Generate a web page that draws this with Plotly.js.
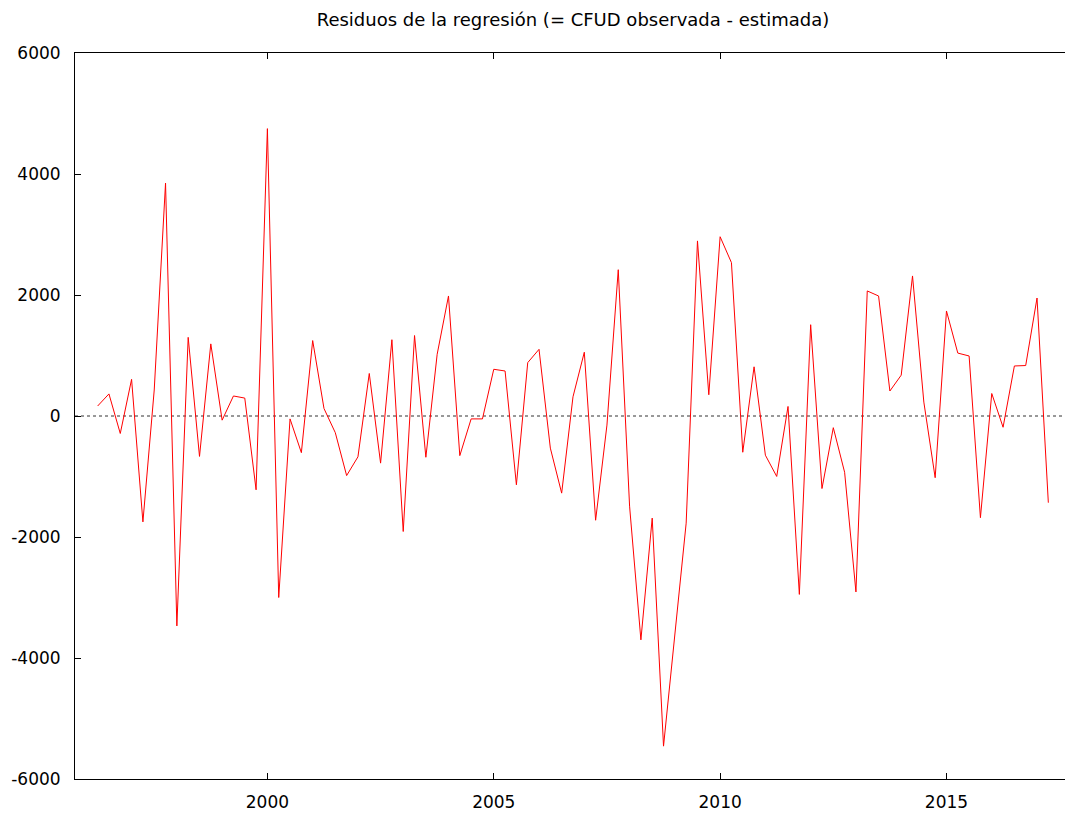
<!DOCTYPE html>
<html>
<head>
<meta charset="utf-8">
<script src="https://cdn.plot.ly/plotly-3.0.1.min.js"></script>
<style>
html, body { margin: 0; padding: 0; overflow: hidden; background: #fff; }
#chart { width: 1065px; height: 816px; }
</style>
</head>
<body>
<div id="chart"></div>
<script>
// Quarterly residuals, 1996Q2 .. 2017Q2
const startYear = 1996;
const startQuarter = 2;
const residuals = [
  165, 365, -289, 606, -1750, 430, 3850, -3470, 1300, -668,
  1192, -69, 331, 296, -1220, 4750, -3000, -48, -606, 1247,
  124, -276, -985, -675, 703, -779, 1261, -1909, 1330, -682,
  1020, 1984, -655, -48, -48, 772, 744, -1137, 882, 1102,
  -531, -1275, 317, 1054, -1723, -150, 2418, -1490, -3700, -1688,
  -5457, -3600, -1771, 2894, 351, 2963, 2535, -599, 813, -648,
  -999, 158, -2949, 1509, -1199, -193, -930, -2908, 2067, 1984,
  413, 675, 2315, 230, -1020, 1736, 1040, 992, -1681, 372,
  -186, 827, 834, 1950, -1433
];
const titleText = 'Residuos de la regresión (= CFUD observada - estimada)';
const xTickVals = [2000, 2005, 2010, 2015];
const yTickVals = [-6000, -4000, -2000, 0, 2000, 4000, 6000];

// time axis (year + fraction of quarter)
const periods = residuals.map((_, i) => {
  const q = startQuarter - 1 + i;
  return startYear + Math.floor(q / 4) + (q % 4) / 4;
});

const trace = {
  x: periods,
  y: residuals,
  type: 'scatter',
  mode: 'lines',
  line: { color: '#ff0000', width: 1 },
  hoverinfo: 'x+y',
  showlegend: false
};

const fontFam = 'DejaVu Sans, Verdana, sans-serif';

const layout = {
  width: 1065,
  height: 816,
  margin: { l: 75, r: 0, t: 53, b: 37, pad: 0 },
  paper_bgcolor: '#ffffff',
  plot_bgcolor: '#ffffff',
  font: { family: fontFam, color: '#000', size: 17 },
  title: {
    text: titleText,
    font: { family: fontFam, size: 18, color: '#000' },
    xref: 'container', x: 573 / 1065, xanchor: 'center',
    yref: 'container', y: 1 - 20 / 816, yanchor: 'middle'
  },
  xaxis: {
    range: [1995.75, 2017.618],
    tickmode: 'array',
    tickvals: xTickVals,
    ticktext: xTickVals.map(String),
    ticks: 'inside', ticklen: 6, tickwidth: 1, tickcolor: '#000',
    showline: true, linecolor: '#000', linewidth: 1, mirror: 'ticks',
    showgrid: false, zeroline: false,
    tickfont: { family: fontFam, size: 17, color: '#000' },
    ticklabelstandoff: 8
  },
  yaxis: {
    range: [-6000, 6000],
    tickmode: 'array',
    tickvals: yTickVals,
    ticktext: yTickVals.map(String),
    ticks: 'inside', ticklen: 6, tickwidth: 1, tickcolor: '#000',
    showline: true, linecolor: '#000', linewidth: 1, mirror: false,
    showgrid: false, zeroline: false,
    tickfont: { family: fontFam, size: 17, color: '#000' },
    ticklabelstandoff: 10
  },
  shapes: [{
    type: 'line', xref: 'paper', yref: 'y',
    x0: 0, x1: 1, y0: 0, y1: 0,
    line: { color: '#333', width: 1, dash: 'dot' },
    layer: 'below'
  }]
};

Plotly.newPlot('chart', [trace], layout, { displayModeBar: false, staticPlot: true });
</script>
</body>
</html>
